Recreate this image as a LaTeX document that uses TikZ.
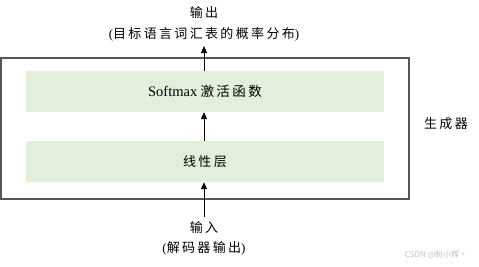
\documentclass[tikz,border=0pt]{standalone}
\usepackage{fontspec}
\setmainfont{Liberation Serif}
\newfontfamily\cjk[LetterSpace=18]{Noto Sans CJK SC}
\newfontfamily\wmfont{Noto Sans CJK SC}
\usetikzlibrary{arrows.meta}
\definecolor{boxgreen}{HTML}{E2EFDA}
\definecolor{framegray}{HTML}{555555}
\begin{document}
\begin{tikzpicture}[x=1pt,y=-1pt,
  layerbox/.style={fill=boxgreen,draw=none,minimum width=358pt,minimum height=41pt,inner sep=0pt,font=\fontsize{13}{15}\selectfont},
  lbl/.style={font=\fontsize{13}{15}\selectfont,inner sep=0pt,align=center},
  arr/.style={-{Triangle[length=7pt,width=6pt]},line width=1pt,black}]
\useasboundingbox (0,0) rectangle (479,266);
\node[draw=framegray,line width=1.3pt,minimum width=408pt,minimum height=141pt,inner sep=0pt] (gen) at (205,128.5) {};
\node[layerbox] (soft) at (205,91.5) {{\fontsize{14.5}{16}\selectfont Softmax} {\cjk\fontsize{13.5}{16}\selectfont 激活函数}};
\node[layerbox] (lin) at (205,161.5) {\cjk 线性层};
\node[lbl] (out1) at (204,13) {\cjk 输出};
\node[lbl] (out2) at (204,34) {(\cjk 目标语言词汇表的概率分布\normalfont)};
\node[lbl] (in1) at (204,228) {\cjk 输入};
\node[lbl] (in2) at (204,248) {(\cjk 解码器输出\normalfont)};
\node[lbl] (genlbl) at (446,124) {\cjk 生成器};
\node[font=\wmfont\fontsize{8}{9}\selectfont,text=black!25,inner sep=0pt] (wm) at (436,255) {CSDN @盼小辉丶};
\coordinate (inTop) at (204,217);
\coordinate (outTip) at (204,46);
\draw[arr] (soft.north -| outTip) -- (outTip);
\draw[arr] (lin.north -| outTip) -- (soft.south -| outTip);
\draw[arr] (inTop) -- (lin.south -| inTop);
\end{tikzpicture}
\end{document}
